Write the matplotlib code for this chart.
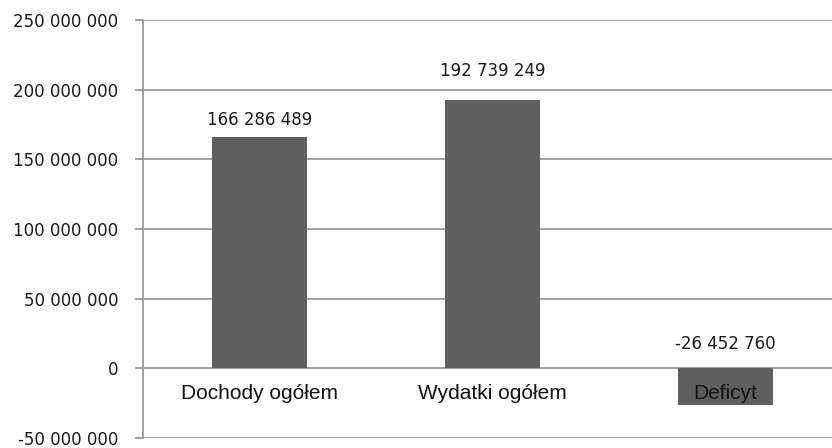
import matplotlib
matplotlib.use("Agg")
import matplotlib.pyplot as plt
from matplotlib.ticker import FuncFormatter, MultipleLocator

categories = ["Dochody ogółem", "Wydatki ogółem", "Deficyt"]
values = [166286489, 192739249, -26452760]
label_offsets_pt = [5.5, 14, 11]  # value label offset above bar top / zero line

W, H = 832, 448
fig = plt.figure(figsize=(W / 100, H / 100), dpi=100)
left_px, right_px, top_px, bottom_px = 143, 832, 20, 438
ax = fig.add_axes([left_px / W, 1 - bottom_px / H,
                   (right_px - left_px) / W, (bottom_px - top_px) / H])

bar_color = "#5f5f5f"
grid_color = "#a0a0a0"

x = list(range(len(categories)))
ax.bar(x, values, width=0.41, color=bar_color, zorder=3)

ax.set_ylim(-50_000_000, 250_000_000)
slot_px = 233
ax.set_xlim(-0.5, -0.5 + (right_px - left_px) / slot_px)
ax.yaxis.set_major_locator(MultipleLocator(50_000_000))


def fmt(v, pos=None):
    s = f"{abs(int(round(v))):,}".replace(",", " ")
    return ("-" if v < 0 else "") + s


ax.yaxis.set_major_formatter(FuncFormatter(fmt))
ax.grid(axis="y", color=grid_color, linewidth=1.4, zorder=0)
ax.set_axisbelow(True)
for s in ["top", "right", "bottom"]:
    ax.spines[s].set_visible(False)
ax.spines["left"].set_color(grid_color)
ax.spines["left"].set_linewidth(1.4)
ax.tick_params(axis="y", length=6, width=1.4, color=grid_color, pad=12,
               labelsize=12, labelcolor="#1a1a1a")
ax.tick_params(axis="x", length=0, labelbottom=False)
for lab in ax.get_yticklabels():
    lab.set_family("DejaVu Sans")

for xi, v, off in zip(x, values, label_offsets_pt):
    base = max(v, 0)
    ax.annotate(fmt(v), (xi, base), xytext=(0, off), textcoords="offset points",
                ha="center", va="bottom", fontsize=12, family="DejaVu Sans",
                color="#1a1a1a", zorder=5)
    ax.annotate(categories[xi], (xi, 0), xytext=(0, -18), textcoords="offset points",
                ha="center", va="center", fontsize=15, family="Liberation Sans",
                color="#111111", zorder=5)

fig.savefig("out.png", dpi=100, facecolor="white")
